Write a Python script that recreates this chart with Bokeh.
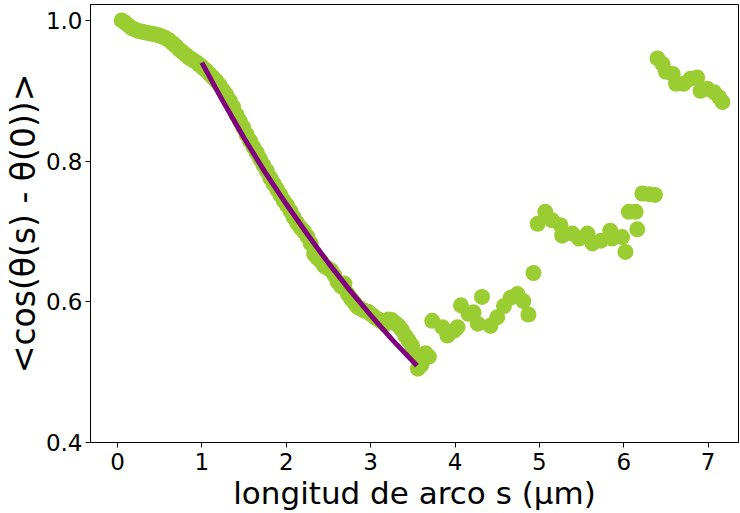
from bokeh.plotting import figure
from bokeh.models import Range1d, FixedTicker
from bokeh.embed import file_html
from bokeh.resources import INLINE

# measured points: arc length s (um) and <cos(theta(s)-theta(0))>
s_data = [0.05, 0.09, 0.13, 0.17, 0.21, 0.25, 0.29, 0.33, 0.37, 0.41, 0.45, 0.49,
          0.53, 0.57, 0.61, 0.65, 0.69, 0.73, 0.77, 0.81, 0.85, 0.89, 0.93, 0.97,
          1.01, 1.05, 1.09, 1.13, 1.17, 1.21, 1.25, 1.29, 1.33, 1.37, 1.41, 1.45,
          1.49, 1.53, 1.57, 1.61, 1.65, 1.69, 1.73, 1.77, 1.81, 1.85, 1.89, 1.93,
          1.97, 2.01, 2.05, 2.09, 2.13, 2.17, 2.21, 2.25, 2.29, 2.33, 2.37, 2.41,
          2.45, 2.49, 2.53, 2.57, 2.61, 2.65, 2.69, 2.73, 2.77, 2.81, 2.85, 2.89,
          2.93, 2.97, 3.01, 3.05, 3.09, 3.13, 3.17, 3.21, 3.25, 3.29, 3.33, 3.37,
          3.41, 3.45, 3.49, 3.53, 3.56, 3.60, 3.65, 3.69,
          3.73, 3.85, 3.91, 3.99, 4.03, 4.07, 4.16, 4.22, 4.27, 4.32, 4.42, 4.50,
          4.58, 4.66, 4.74, 4.81, 4.87, 4.93,
          4.98, 5.07, 5.15, 5.25, 5.27, 5.39, 5.47, 5.57, 5.63, 5.73, 5.84, 5.86,
          5.98, 6.02, 6.06, 6.14, 6.16, 6.22, 6.30, 6.37,
          6.40, 6.46, 6.50, 6.58, 6.62, 6.71, 6.79, 6.87, 6.91, 6.99, 7.07, 7.13, 7.17]
c_data = [1.000, 0.997, 0.993, 0.989, 0.987, 0.985, 0.984, 0.983, 0.982, 0.981, 0.980, 0.979,
          0.977, 0.975, 0.972, 0.968, 0.964, 0.959, 0.955, 0.951, 0.947, 0.944, 0.941, 0.937,
          0.933, 0.929, 0.924, 0.919, 0.914, 0.908, 0.901, 0.894, 0.886, 0.877, 0.866, 0.857,
          0.848, 0.838, 0.829, 0.820, 0.812, 0.803, 0.794, 0.786, 0.776, 0.768, 0.760, 0.752,
          0.744, 0.737, 0.729, 0.720, 0.712, 0.705, 0.700, 0.693, 0.683, 0.668, 0.662, 0.658,
          0.651, 0.648, 0.645, 0.638, 0.628, 0.622, 0.626, 0.611, 0.604, 0.598, 0.592, 0.590,
          0.587, 0.586, 0.582, 0.578, 0.575, 0.572, 0.568, 0.575, 0.574, 0.570, 0.566, 0.560,
          0.552, 0.545, 0.538, 0.525, 0.505, 0.510, 0.527, 0.522,
          0.573, 0.564, 0.552, 0.559, 0.564, 0.595, 0.583, 0.585, 0.569, 0.607, 0.566, 0.578,
          0.594, 0.606, 0.611, 0.601, 0.582, 0.641,
          0.711, 0.728, 0.716, 0.709, 0.694, 0.697, 0.690, 0.697, 0.683, 0.687, 0.701, 0.690,
          0.692, 0.671, 0.728, 0.728, 0.703, 0.754, 0.753, 0.752,
          0.946, 0.938, 0.927, 0.924, 0.910, 0.910, 0.917, 0.919, 0.900, 0.903, 0.898, 0.891, 0.884]

# exponential fit curve
fit_s = [1.0, 1.25, 1.5, 1.75, 2.0, 2.25, 2.5, 2.75, 3.0, 3.25, 3.55]
fit_c = [0.940, 0.885, 0.833, 0.784, 0.739, 0.696, 0.655, 0.617, 0.581, 0.547, 0.509]

x_ticks = [0, 1, 2, 3, 4, 5, 6, 7]
y_ticks = [0.4, 0.6, 0.8, 1.0]

FONT = "DejaVu Sans"

p = figure(width=740, height=513, output_backend="svg", toolbar_location=None,
           x_range=Range1d(-0.32, 7.36), y_range=Range1d(0.4, 1.0227),
           min_border_left=90, min_border_right=2, min_border_top=4, min_border_bottom=71)
p.background_fill_color = "white"
p.border_fill_color = "white"
p.outline_line_color = "black"
p.outline_line_width = 1
p.xgrid.visible = False
p.ygrid.visible = False

p.scatter(s_data, c_data, size=16, color="#9ACD32", line_color=None)
p.line(fit_s, fit_c, line_width=5, color="#800080")

for ax in (p.xaxis[0], p.yaxis[0]):
    ax.major_label_text_font = FONT
    ax.major_label_text_font_size = "23px"
    ax.major_label_text_color = "black"
    ax.axis_label_text_font = FONT
    ax.axis_label_text_font_style = "normal"
    ax.axis_label_text_color = "black"
    ax.minor_tick_line_color = None
    ax.major_tick_out = 5
    ax.major_tick_in = 0
    ax.axis_line_color = "black"
    ax.major_tick_line_color = "black"

p.xaxis[0].axis_label_text_font_size = "31px"
p.yaxis[0].axis_label_text_font_size = "33px"
p.xaxis[0].ticker = FixedTicker(ticks=x_ticks)
p.yaxis[0].ticker = FixedTicker(ticks=y_ticks)
p.yaxis[0].major_label_overrides = {0.4: "0.4", 0.6: "0.6", 0.8: "0.8", 1.0: "1.0"}
p.yaxis[0].major_label_standoff = 3
p.xaxis[0].axis_label = "longitud de arco s (μm)"
p.yaxis[0].axis_label = "<cos(θ(s) - θ(0))>"
p.xaxis[0].axis_label_standoff = 2
p.yaxis[0].axis_label_standoff = 0

open("out.html", "w").write(file_html(p, INLINE))
